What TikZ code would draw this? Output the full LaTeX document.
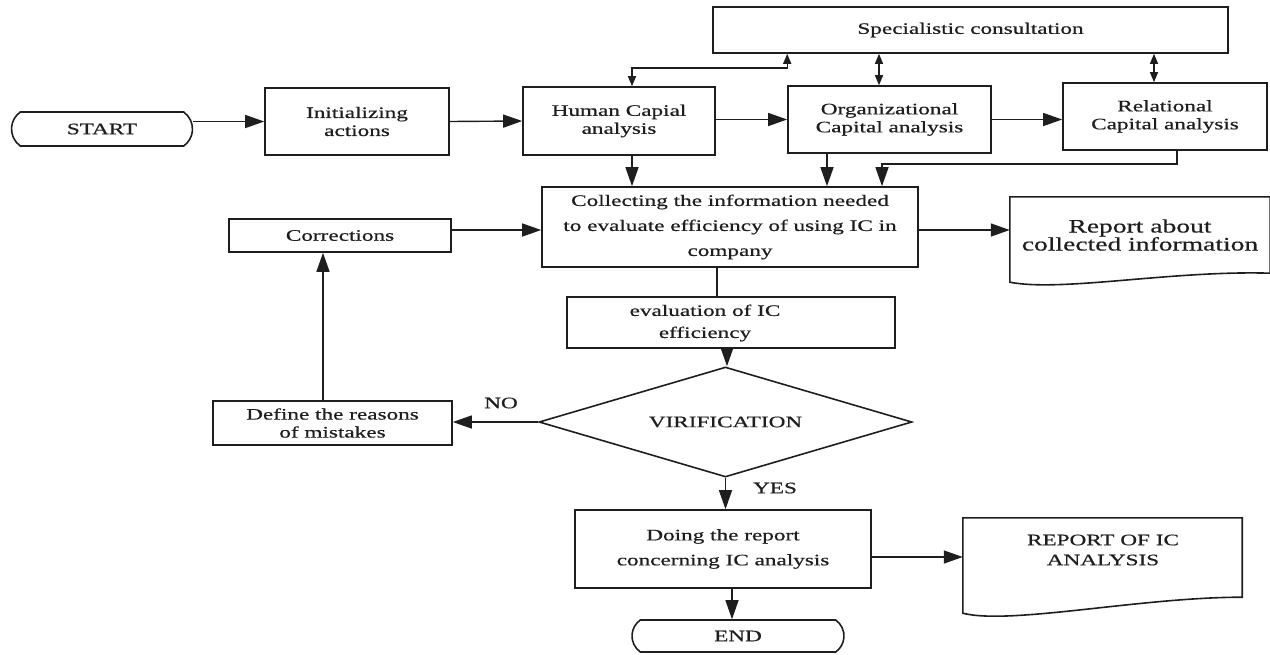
\documentclass[tikz,border=0pt]{standalone}
\usepackage{fontspec}
\setmainfont{Liberation Serif}[FakeStretch=1.45, FakeBold=0.6]
\usetikzlibrary{arrows.meta,shapes.geometric,shapes.misc,calc}
\definecolor{ink}{HTML}{1E1E1E}
\begin{document}
\begin{tikzpicture}[x=1pt,y=-1pt,
  every node/.style={text=ink, font=\fontsize{16}{18}\selectfont},
  box/.style={draw=ink, line width=1.6pt, inner sep=0pt, align=center},
  term/.style={draw=ink, line width=1.6pt, inner sep=0pt, rounded rectangle, rounded rectangle arc length=110},
  dia/.style={draw=ink, line width=1.6pt, inner sep=0pt, diamond, aspect=3.39},
  docshape/.style={draw=ink, line width=1.6pt},
  plain/.style={draw=ink, line width=1.4pt},
  arr/.style={draw=ink, line width=1.4pt, -{Triangle[length=19pt,width=13pt]}},
  dbl/.style={draw=ink, line width=1.4pt, {Triangle[length=10pt,width=8pt]}-{Triangle[length=10pt,width=8pt]}}
]
\path[use as bounding box] (0,0) rectangle (1270,654);

% nodes
\node[term, minimum width=181pt, minimum height=34pt] (start) at (102,129) {START};
\node[box, minimum width=184pt, minimum height=67pt] (init) at (357,121.5) {Initializing\\actions};
\node[box, minimum width=192pt, minimum height=68pt] (human) at (619,121) {Human Capial\\analysis};
\node[box, minimum width=203pt, minimum height=67pt] (org) at (889.5,119.5) {Organizational\\Capital analysis};
\node[box, minimum width=204pt, minimum height=67pt] (rel) at (1165,116.5) {Relational\\Capital analysis};
\node[box, minimum width=515pt, minimum height=46pt] (spec) at (970.5,30) {Specialistic consultation};
\node[box, minimum width=376pt, minimum height=80pt, font=\fontsize{16}{25}\selectfont] (coll) at (730,227) {Collecting the information needed\\to evaluate efficiency of using IC in\\company};
\node[box, minimum width=222pt, minimum height=33pt] (corr) at (340,235.5) {Corrections};
\node[inner sep=0pt, minimum width=260pt, minimum height=76pt, align=center, font=\fontsize{19}{18}\selectfont] (rep1) at (1140,235) {Report about\\collected information};
\node[box, minimum width=328pt, minimum height=51pt] (eval) at (731,322.5) {};
\node[align=center, font=\fontsize{16}{22}\selectfont] (evalt) at (705,323) {evaluation of IC\\efficiency};
\node[dia, minimum width=373pt, minimum height=110pt] (dia) at (725.5,422) {VIRIFICATION};
\node[box, minimum width=239pt, minimum height=44pt] (def) at (332.5,423) {Define the reasons\\of mistakes};
\node[box, minimum width=296pt, minimum height=78pt, font=\fontsize{16}{25}\selectfont] (doing) at (723,549) {Doing the report\\concerning IC analysis};
\node[inner sep=0pt, minimum width=279pt, minimum height=79pt] (rep2) at (1102.5,557.5) {};
\node[align=center, font=\fontsize{16}{20}\selectfont] (rep2t) at (1103,550) {REPORT OF IC\\ANALYSIS};
\node[term, minimum width=212pt, minimum height=32pt] (end) at (738,636) {END};
\node (no) at (501,403) {NO};
\node (yes) at (775,488) {YES};

% document shapes
\draw[docshape] ([yshift=-9pt]rep1.south west) -- (rep1.north west) -- (rep1.north east) -- (rep1.south east)
  .. controls ([xshift=-98pt,yshift=3pt]rep1.south east) and ([xshift=52pt,yshift=-19pt]rep1.south west) .. ([yshift=-9pt]rep1.south west) -- cycle;
\draw[docshape] ([yshift=-16pt]rep2.south west) -- (rep2.north west) -- (rep2.north east) -- (rep2.south east)
  .. controls ([xshift=-102pt]rep2.south east) and ([xshift=47pt,yshift=-28pt]rep2.south west) .. ([yshift=-16pt]rep2.south west) -- cycle;

% connectors
\draw[arr] (init.west -| start.east) -- (init.west);
\draw[arr] (init.east) -- (human.west);
\draw[arr] (human.east |- org.west) -- (org.west);
\draw[arr] (org.east) -- (org.east -| rel.west);
\draw[dbl] ([xshift=-10.5pt]org.north) -- ([xshift=-10.5pt]org.north |- spec.south);
\draw[dbl] ([xshift=-11pt]rel.north) -- ([xshift=-11pt]rel.north |- spec.south);
\draw[dbl] ([xshift=13pt]human.north) |- ([xshift=75pt,yshift=-14pt]spec.south west) -- ([xshift=75pt]spec.south west);
\draw[arr] ([xshift=13pt]human.south) -- ([xshift=13pt]human.south |- coll.north);
\draw[arr] ([xshift=-62.5pt]org.south) -- ([xshift=-62.5pt]org.south |- coll.north);
\draw[arr] ([xshift=12pt]rel.south) -- ++(0,13) -| ([xshift=152pt]coll.north);
\draw[arr] ([yshift=5.5pt]corr.east) -- ([yshift=5.5pt]corr.east -| coll.west);
\draw[arr] ([yshift=-3pt]coll.east) -- ([yshift=-3pt]coll.east -| rep1.west);
\draw[plain] ([xshift=-13pt]coll.south) -- ([xshift=-13pt]coll.south |- eval.north);
\draw[arr] ([xshift=-4pt]eval.south) -- ([xshift=-4pt]eval.south |- dia.north);
\draw[arr] (dia.west) -- (dia.west -| def.east);
\draw[arr] ([xshift=-9.5pt]def.north) -- ([xshift=-9.5pt]def.north |- corr.south);
\draw[arr] (dia.south) -- (dia.south |- doing.north);
\draw[arr] ([yshift=-8pt]doing.east) -- ([yshift=-8pt]doing.east -| rep2.west);
\draw[arr] ([xshift=9pt]doing.south) -- ([xshift=9pt]doing.south |- end.north);
\end{tikzpicture}
\end{document}
